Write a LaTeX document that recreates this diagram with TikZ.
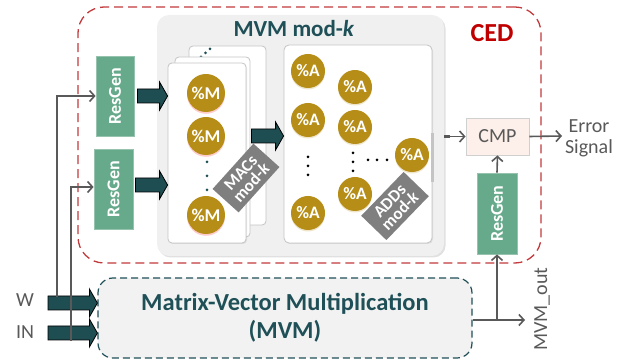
\documentclass[tikz,border=0pt]{standalone}
\usepackage{fontspec}
\setmainfont{Carlito}
\usetikzlibrary{calc,arrows.meta,shadows}

\definecolor{cedred}{HTML}{C00000}
\definecolor{ceddash}{HTML}{C23A3C}
\definecolor{tealtxt}{HTML}{1F5058}
\definecolor{arrteal}{HTML}{1F4E52}
\definecolor{gold}{HTML}{B58D17}
\definecolor{resgreen}{HTML}{67AA8B}
\definecolor{labgray}{HTML}{7F7F7F}
\definecolor{txtgray}{HTML}{595959}
\definecolor{panel}{HTML}{F0F0F0}
\definecolor{cardline}{HTML}{C4C4C4}
\definecolor{cmpfill}{HTML}{FDEFE9}
\definecolor{mvmfill}{HTML}{F2F2F2}

\newcommand{\fsz}[1]{\fontsize{#1}{#1}\selectfont}

% fat horizontal arrow between two named coordinates at the same height
\newcommand{\fatarrow}[2]{%
  \filldraw[fill=arrteal, draw=black, line width=0.8pt]
    ($(#1)+(0,-7)$) -- ($(#2)+(-8,-7)$) -- ($(#2)+(-8,-14)$) -- (#2)
    -- ($(#2)+(-8,14)$) -- ($(#2)+(-8,7)$) -- ($(#1)+(0,7)$) -- cycle;}

\tikzset{
  rgbox/.style={fill=resgreen, draw=resgreen!70!white, line width=0.8pt,
    minimum width=38, minimum height=80, inner sep=0},
  rgtext/.style={rotate=90, text=white, font=\bfseries\fsz{18}},
  card/.style={draw=cardline, fill=white, rounded corners=4, line width=0.8pt, inner sep=0},
  mcirc/.style={circle, fill=gold, minimum size=38, inner sep=0, text=white,
    font=\bfseries\fsz{18},
    drop shadow={shadow xshift=0pt, shadow yshift=-1.8pt, fill=red!45, opacity=.45}},
  acirc/.style={circle, fill=gold, minimum size=34, inner sep=0, text=white,
    font=\bfseries\fsz{17.5},
    drop shadow={shadow xshift=0pt, shadow yshift=-1.5pt, fill=gold!45, opacity=.5}},
  glabel/.style={fill=labgray, text=white, font=\bfseries\fontsize{17}{14.5}\selectfont,
    align=center, minimum width=61, minimum height=35, inner sep=0},
  thinarrow/.style={draw=txtgray, line width=1.6pt,
    -{Straight Barb[length=5pt, width=11pt]}},
  plain/.style={text=txtgray, font=\fsz{20}},
  dotk/.style={circle, fill=black, minimum size=3, inner sep=0},
  dott/.style={circle, fill=tealtxt, minimum size=3, inner sep=0},
}

\begin{document}
\begin{tikzpicture}[x=1pt, y=-1pt]
\useasboundingbox (0,0) rectangle (630,363);

% CED region
\node[draw=ceddash, dash pattern=on 9pt off 5pt, line width=1.3pt, rounded corners=26,
  minimum width=463, minimum height=256, inner sep=0] (ced) at (309.5,135) {};
\node[text=cedred, font=\bfseries\fsz{26}] (cedlab) at (492,33) {CED};

% MVM mod-k panel
\node[fill=panel, rounded corners=12, minimum width=287, minimum height=241, inner sep=0,
  drop shadow={shadow xshift=1.5pt, shadow yshift=-1.5pt, fill=black, opacity=.12}]
  (mvmk) at (300.5,135.5) {};
\node[text=tealtxt, font=\bfseries\fsz{23}] (title) at (294,29) {MVM mod-\textit{k}};

% stacked MAC cards
\node[card, minimum width=77, minimum height=179] (cardback) at (227.5,135.5) {};
\node[dott] (bd1) at (201,57) {};
\node[dott] (bd2) at (205.5,53) {};
\node[dott] (bd3) at (210,49) {};
\node[card, minimum width=75, minimum height=180] (cardmid) at (212.5,147) {};
\node[card, minimum width=78, minimum height=180,
  drop shadow={shadow xshift=1pt, shadow yshift=-1pt, fill=black, opacity=.08}]
  (cardfront) at (207,153) {};

\node[mcirc] (m1) at (206,93) {\%M};
\node[mcirc] (m2) at (206,136) {\%M};
\node[mcirc] (m3) at (206,215) {\%M};
\node[dott] (md1) at (207,162) {};
\node[dott] (md2) at (207,176) {};
\node[dott] (md3) at (207,190) {};
\node[glabel, rotate=48] (maclab) at (246,178) {MACs\\mod-\textit{k}};

% adder card
\node[card, rounded corners=5, minimum width=148, minimum height=198,
  drop shadow={shadow xshift=1pt, shadow yshift=-1pt, fill=black, opacity=.08}]
  (cardadd) at (358,144) {};
\draw[draw=cardline, line width=2.5pt] ($(cardadd.east)+(0,-11)$) -- ($(cardadd.east)+(0,38)$);
\node[acirc] (a1) at (308,71) {\%A};
\node[acirc] (a2) at (355,87) {\%A};
\node[acirc] (a3) at (308,120) {\%A};
\node[acirc] (a4) at (355,127) {\%A};
\node[acirc] (a5) at (308,213) {\%A};
\node[acirc] (a6) at (355,194) {\%A};
\node[acirc] (a7) at (412,155) {\%A};
\node[dotk] at (308,157) {};
\node[dotk] at (308,166) {};
\node[dotk] at (308,175) {};
\node[dotk] at (353,153) {};
\node[dotk] at (353,162) {};
\node[dotk] at (353,171) {};
\node[dotk] at (368,160) {};
\node[dotk] at (377,160) {};
\node[dotk] at (387,160) {};
\node[glabel, rotate=46] (addlab) at (395,206) {ADDs\\mod-\textit{k}};

% residue generators
\node[rgbox, label={[rgtext]center:ResGen}] (rg1) at (115,96) {};
\node[rgbox, minimum width=39, label={[rgtext]center:ResGen}] (rg2) at (113.5,189) {};
\node[rgbox, minimum width=40, minimum height=81, label={[rgtext]center:ResGen}] (rg3) at (497,213.5) {};

% comparator
\node[fill=cmpfill, draw=cardline!80, line width=0.8pt, minimum width=63, minimum height=37,
  inner sep=0, text=txtgray, font=\fsz{20}] (cmp) at (497.5,136.5) {CMP};
\node[text=txtgray, align=center, font=\fontsize{20}{21}\selectfont] (err) at (589,138) {Error\\Signal};

% main MVM block
\node[draw=tealtxt, fill=mvmfill, dash pattern=on 7pt off 4pt, line width=1.2pt,
  rounded corners=15, minimum width=374, minimum height=80, inner sep=0,
  text=tealtxt, font=\bfseries\fontsize{24.5}{28}\selectfont, align=center]
  (mvm) at (285,318) {Matrix-Vector Multiplication\\(MVM)};

% inputs
\node[plain] (w) at (25,300) {W};
\node[plain] (in) at (25,332) {IN};
\node[plain, rotate=90] (out) at (542,309) {MVM\_out};

% fat data arrows
\coordinate (f1s) at ([xshift=3]rg1.east);
\coordinate (f1e) at (cardfront.west |- f1s);
\fatarrow{f1s}{f1e}
\coordinate (f2s) at ([xshift=2]rg2.east |- 0,185);
\coordinate (f2e) at (cardfront.west |- f2s);
\fatarrow{f2s}{f2e}
\coordinate (f3s) at ([xshift=5]cardfront.east |- 0,136);
\coordinate (f3e) at (cardadd.west |- f3s);
\fatarrow{f3s}{f3e}
\coordinate (fws) at (48,303);
\coordinate (fwe) at (mvm.west |- fws);
\fatarrow{fws}{fwe}
\coordinate (fis) at (48,333);
\coordinate (fie) at (mvm.west |- fis);
\fatarrow{fis}{fie}

% thin signal lines
\coordinate (t1) at (57,297);
\draw[thinarrow] (t1) |- (rg1.west);
\coordinate (t2) at (71,341);
\draw[thinarrow] (t2) |- (rg2.west |- 0,187);

\coordinate (cmpin) at (mvmk.east |- cmp.west);
\draw[thinarrow] (cmpin) -- (cmp.west);
\draw[draw=txtgray, line width=3pt] (cmpin) -- ++(6,0);
\coordinate (errtip) at (562,136);
\draw[thinarrow] (cmp.east) -- (errtip);
\draw[thinarrow] (rg3.north) -- (cmp.south);

\coordinate (outtip) at (525,320);
\coordinate (outsrc) at (mvm.east |- outtip);
\coordinate (branch) at (rg3.south |- outtip);
\draw[thinarrow] (outsrc) -- (outtip);
\draw[thinarrow] (branch) -- (rg3.south);
\end{tikzpicture}
\end{document}
